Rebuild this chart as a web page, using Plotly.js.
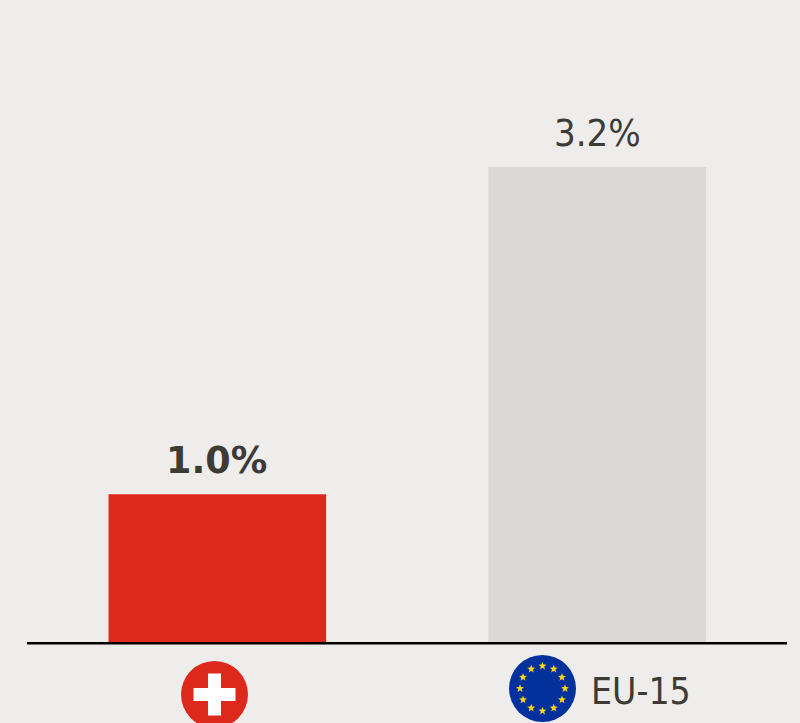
<!DOCTYPE html>
<html>
<head>
<meta charset="utf-8">
<script src="https://cdn.plot.ly/plotly-3.0.1.min.js"></script>
<style>html,body{margin:0;padding:0;background:#efedeb;overflow:hidden}</style>
</head>
<body>
<div id="chart" style="width:800px;height:723px"></div>
<script>
const categories = ['Switzerland', 'EU-15'];
const values = [1.0, 3.2];
const valueLabels = ['<b>1.0%</b>', '3.2%'];
const barColors = ['#dc291c', '#dbd8d5'];
const bg = '#efedeb', ink = '#3d3b35';
const FONT = '"DejaVu Sans Condensed", "DejaVu Sans", sans-serif';
const BOLD = '"DejaVu Sans", sans-serif';

const W = 800, H = 723, L = 27, R = 13, B = 80, PH = 643;

function svgUri(s){ return 'data:image/svg+xml;base64,' + btoa(s); }
const chFlag = svgUri('<svg xmlns="http://www.w3.org/2000/svg" width="68" height="68" viewBox="0 0 68 68"><circle cx="34" cy="34" r="33.5" fill="#dc291c"/><rect x="27.5" y="13" width="13" height="42" fill="#fff"/><rect x="13" y="27.5" width="42" height="13" fill="#fff"/></svg>');
function star(cx, cy, r){
  let p = [];
  for (let i = 0; i < 10; i++){
    const a = -Math.PI/2 + i*Math.PI/5, q = i%2 ? r*0.42 : r;
    p.push((cx+q*Math.cos(a)).toFixed(2)+','+(cy+q*Math.sin(a)).toFixed(2));
  }
  return '<polygon points="'+p.join(' ')+'" fill="#ffd617"/>';
}
let stars = '';
for (let i = 0; i < 12; i++){
  const a = i*Math.PI/6;
  stars += star(34+22.5*Math.sin(a), 34-22.5*Math.cos(a), 4.2);
}
const euFlag = svgUri('<svg xmlns="http://www.w3.org/2000/svg" width="68" height="68" viewBox="0 0 68 68"><circle cx="34" cy="34" r="33.5" fill="#03319b"/>'+stars+'</svg>');

const px = x => (x - L) / (W - L - R);
const py = y => (PH - y) / PH;

Plotly.newPlot('chart', [{
  type: 'bar',
  x: categories,
  y: values,
  width: 0.573,
  marker: {color: barColors, line: {width: 0}},
  hoverinfo: 'skip'
}], {
  width: W, height: H,
  margin: {l: L, r: R, t: 0, b: B, pad: 0},
  paper_bgcolor: bg,
  plot_bgcolor: bg,
  showlegend: false,
  font: {family: FONT, color: ink, size: 38},
  xaxis: {
    type: 'category', range: [-0.5012, 1.5], showgrid: false, zeroline: false,
    showticklabels: false, ticks: '', showline: false, fixedrange: true
  },
  yaxis: {
    range: [0, 4.323], visible: false, fixedrange: true, showgrid: false, zeroline: false
  },
  shapes: [{
    type: 'line', xref: 'paper', yref: 'paper', x0: 0, x1: 1, y0: py(643.3), y1: py(643.3),
    line: {color: '#000000', width: 2.4}, layer: 'above'
  }],
  annotations: categories.map((c, i) => ({
    x: c, y: values[i], xref: 'x', yref: 'y',
    text: valueLabels[i], showarrow: false,
    xanchor: 'center', yanchor: 'bottom', yshift: 10, xshift: i === 0 ? -1 : 0,
    font: {family: i === 0 ? BOLD : FONT, size: i === 0 ? 36.5 : 38, color: ink}
  })).concat([{
    x: px(641), y: py(691), xref: 'paper', yref: 'paper',
    text: 'EU-15', showarrow: false, xanchor: 'center', yanchor: 'middle',
    font: {family: FONT, size: 37, color: ink}
  }]),
  images: [
    {source: chFlag, xref: 'paper', yref: 'paper', x: px(180.5), y: py(660.5), sizex: 68/(W-L-R), sizey: 68/PH, xanchor: 'left', yanchor: 'top', sizing: 'stretch', layer: 'above'},
    {source: euFlag, xref: 'paper', yref: 'paper', x: px(508.5), y: py(654.5), sizex: 68/(W-L-R), sizey: 68/PH, xanchor: 'left', yanchor: 'top', sizing: 'stretch', layer: 'above'}
  ]
}, {staticPlot: true, displayModeBar: false});
</script>
</body>
</html>
